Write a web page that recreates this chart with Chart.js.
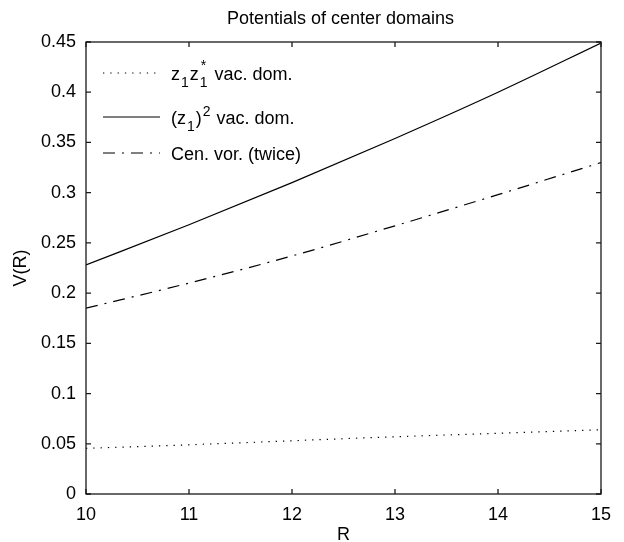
<!DOCTYPE html>
<html>
<head>
<meta charset="utf-8">
<script src="https://cdn.jsdelivr.net/npm/chart.js@4.4.1/dist/chart.umd.min.js"></script>
<style>
  html, body { margin: 0; padding: 0; background: #fff; }
  #wrap { width: 624px; height: 542px; }
</style>
</head>
<body>
<div id="wrap"><canvas id="potChart" width="624" height="542"></canvas></div>
<script>
// R values and potentials V(R)
var radii = [10, 11, 12, 13, 14, 15];
var vacConj = [0.0455, 0.049, 0.053, 0.057, 0.0605, 0.064];     // z1 z1* vac. dom.
var vacSquare = [0.228, 0.268, 0.310, 0.354, 0.400, 0.449];      // (z1)^2 vac. dom.
var cenVortex = [0.185, 0.210, 0.237, 0.267, 0.298, 0.330];      // Cen. vor. (twice)

var xTicks = [10, 11, 12, 13, 14, 15];
var yTicks = [0, 0.05, 0.1, 0.15, 0.2, 0.25, 0.3, 0.35, 0.4, 0.45];

var FONT = 'Liberation Sans, Arial, Helvetica, sans-serif';

function pts(ys) {
  return radii.map(function (r, i) { return { x: r, y: ys[i] }; });
}

// box around the axes with inward ticks on all four sides
var boxPlugin = {
  id: 'boxPlugin',
  afterDraw: function (chart) {
    var ctx = chart.ctx, a = chart.chartArea;
    var xs = chart.scales.x, ys = chart.scales.y;
    var tl = 5;
    ctx.save();
    ctx.strokeStyle = '#1a1a1a';
    ctx.lineWidth = 1.3;
    ctx.strokeRect(a.left, a.top, a.right - a.left, a.bottom - a.top);
    ctx.beginPath();
    xTicks.forEach(function (v) {
      var px = xs.getPixelForValue(v);
      ctx.moveTo(px, a.bottom); ctx.lineTo(px, a.bottom - tl);
      ctx.moveTo(px, a.top); ctx.lineTo(px, a.top + tl);
    });
    yTicks.forEach(function (v) {
      var py = ys.getPixelForValue(v);
      ctx.moveTo(a.left, py); ctx.lineTo(a.left + tl, py);
      ctx.moveTo(a.right, py); ctx.lineTo(a.right - tl, py);
    });
    ctx.stroke();

    // title
    ctx.fillStyle = '#000';
    ctx.font = '18px ' + FONT;
    ctx.textAlign = 'center';
    ctx.textBaseline = 'middle';
    ctx.fillText('Potentials of center domains', (a.left + a.right) / 2 - 3, 19);
    ctx.restore();
  }
};

// legend with sub- and superscripts
var texLegend = {
  id: 'texLegend',
  afterDatasetsDraw: function (chart) {
    var ctx = chart.ctx;
    var big = '18px ' + FONT, small = '14px ' + FONT;
    var x0 = 103, x1 = 160, tx = 171;
    var rows = [
      { y: 73, ds: 0, parts: [['z', 0], ['1', 1], ['z', 0], ['1*', 3], [' vac. dom.', 0]] },
      { y: 117, ds: 1, parts: [['(z', 0], ['1', 1], [')', 0], ['2', 2], [' vac. dom.', 0]] },
      { y: 153, ds: 2, parts: [['Cen. vor. (twice)', 0]] }
    ];
    ctx.save();
    rows.forEach(function (row) {
      var d = chart.data.datasets[row.ds];
      ctx.beginPath();
      ctx.strokeStyle = d.borderColor;
      ctx.lineWidth = d.borderWidth;
      ctx.setLineDash(d.borderDash || []);
      ctx.moveTo(x0, row.y);
      ctx.lineTo(x1, row.y);
      ctx.stroke();
      ctx.setLineDash([]);

      var base = row.y + 7;
      var x = tx;
      ctx.fillStyle = '#000';
      ctx.textAlign = 'left';
      ctx.textBaseline = 'alphabetic';
      row.parts.forEach(function (p) {
        var txt = p[0], kind = p[1];
        if (kind === 0) {
          ctx.font = big;
          ctx.fillText(txt, x, base);
          x += ctx.measureText(txt).width;
        } else if (kind === 1) {
          ctx.font = small;
          ctx.fillText(txt, x + 1, base + 7);
          x += ctx.measureText(txt).width + 2;
        } else if (kind === 2) {
          ctx.font = small;
          ctx.fillText(txt, x + 1, base - 8);
          x += ctx.measureText(txt).width + 2;
        } else {
          // stacked subscript and superscript
          ctx.font = small;
          ctx.fillText(txt[0], x + 1, base + 7);
          ctx.fillText(txt[1], x + 2, base - 10);
          x += ctx.measureText(txt[0]).width + 3;
        }
      });
    });
    ctx.restore();
  }
};

new Chart(document.getElementById('potChart').getContext('2d'), {
  type: 'line',
  data: {
    datasets: [
      {
        label: 'z1z1* vac. dom.',
        data: pts(vacConj),
        borderColor: '#000',
        borderWidth: 1.2,
        borderDash: [1.3, 6],
        pointRadius: 0,
        cubicInterpolationMode: 'monotone'
      },
      {
        label: '(z1)^2 vac. dom.',
        data: pts(vacSquare),
        borderColor: '#000',
        borderWidth: 1.2,
        pointRadius: 0,
        cubicInterpolationMode: 'monotone'
      },
      {
        label: 'Cen. vor. (twice)',
        data: pts(cenVortex),
        borderColor: '#000',
        borderWidth: 1.2,
        borderDash: [12, 7, 2, 7],
        pointRadius: 0,
        cubicInterpolationMode: 'monotone'
      }
    ]
  },
  options: {
    responsive: false,
    animation: false,
    layout: { padding: { top: 42, right: 23, left: 0, bottom: 0 } },
    plugins: {
      legend: { display: false },
      tooltip: { enabled: false }
    },
    scales: {
      x: {
        type: 'linear',
        min: 10,
        max: 15,
        afterBuildTicks: function (s) { s.ticks = xTicks.map(function (v) { return { value: v }; }); },
        afterFit: function (s) { s.height = 48; },
        grid: { display: false },
        border: { display: false },
        ticks: { color: '#000', font: { family: FONT, size: 18 }, padding: 2, maxRotation: 0 },
        title: { display: true, text: 'R', color: '#000', font: { family: FONT, size: 18, lineHeight: 0.8 }, padding: 0 }
      },
      y: {
        min: 0,
        max: 0.45,
        afterBuildTicks: function (s) { s.ticks = yTicks.map(function (v) { return { value: v }; }); },
        afterFit: function (s) { s.width = 86; },
        grid: { display: false },
        border: { display: false },
        ticks: {
          color: '#000',
          font: { family: FONT, size: 18 },
          padding: 2,
          callback: function (v) { return String(+v.toFixed(2)); }
        },
        title: { display: true, text: 'V(R)', color: '#000', font: { family: FONT, size: 18 }, padding: { top: 10, bottom: 0 } }
      }
    }
  },
  plugins: [boxPlugin, texLegend]
});
</script>
</body>
</html>
